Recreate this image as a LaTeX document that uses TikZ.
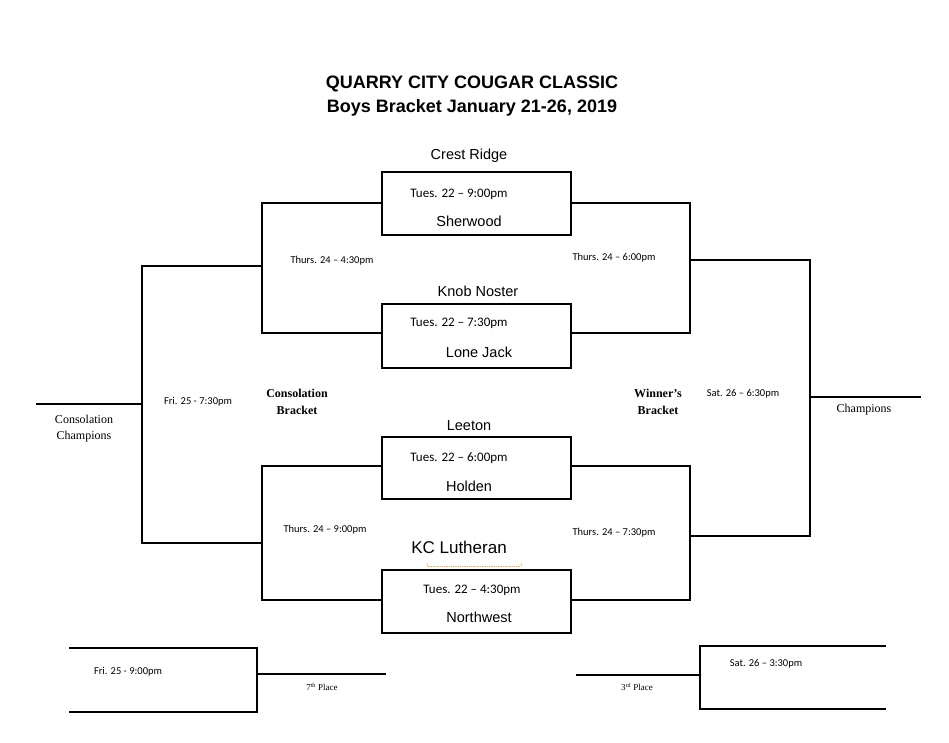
\documentclass[tikz,border=0pt]{standalone}
\usepackage{fontspec}
\setmainfont{Liberation Serif}
\newfontfamily\arialf{Liberation Sans}
\newfontfamily\calf{Carlito}
\begin{document}
\begin{tikzpicture}[x=1pt,y=-1pt,
  ln/.style={line width=2.8pt,line cap=rect},
  team/.style={font=\arialf\fontsize{14.5}{17}\selectfont,inner sep=0},
  tm/.style={font=\calf\fontsize{13}{15}\selectfont,inner sep=0},
  sm/.style={font=\calf\fontsize{10.5}{12}\selectfont,inner sep=0},
  lbl/.style={font=\fontsize{12}{16}\selectfont,inner sep=0,align=center},
  blbl/.style={font=\bfseries\fontsize{12}{17}\selectfont,inner sep=0,align=center}]
\useasboundingbox (0,0) rectangle (949,743);
\fill[white] (0,0) rectangle (949,743);
\node[font=\arialf\bfseries\fontsize{18}{24}\selectfont,align=center] (title) at (472,96) {QUARRY CITY COUGAR CLASSIC\\Boys Bracket January 21-26, 2019};
% boxes
\draw[ln] (382,172) rectangle (571,235);
\draw[ln] (382,304) rectangle (571,368);
\draw[ln] (382,437) rectangle (571,499);
\draw[ln] (382,570) rectangle (571,633);
% inner brackets
\draw[ln] (382,203) -- (262,203) -- (262,333) -- (382,333);
\draw[ln] (571,203) -- (690,203) -- (690,333) -- (571,333);
\draw[ln] (382,466) -- (262,466) -- (262,600) -- (382,600);
\draw[ln] (571,466) -- (690,466) -- (690,600) -- (571,600);
% outer
\draw[ln] (262,266) -- (142,266) -- (142,543) -- (262,543);
\draw[ln] (37,404) -- (142,404);
\draw[ln] (690,260) -- (810,260) -- (810,536) -- (690,536);
\draw[ln] (810,397) -- (920,397);
% bottom
\draw[ln] (70,648) -- (257,648) -- (257,712) -- (70,712);
\draw[ln] (257,674) -- (385,674);
\draw[ln] (885,646) -- (700,646) -- (700,709) -- (885,709);
\draw[ln] (577,675) -- (700,675);
\draw[orange!70,densely dotted,line width=0.8pt] (427,563) -- (427,566) -- (521,566) -- (521,563);
% teams
\node[team] (t1) at (469,156) {Crest Ridge};
\node[team] (t2) at (469,221) {Sherwood};
\node[team] (t3) at (478,291) {Knob Noster};
\node[team] (t4) at (479,352) {Lone Jack};
\node[team] (t5) at (469,426) {Leeton};
\node[team] (t6) at (469,486) {Holden};
\node[team,font=\arialf\fontsize{17}{20}\selectfont] (t7) at (459,547) {KC Lutheran};
\node[team] (t8) at (479,617) {Northwest};
% times
\node[tm] (g1) at (459,194) {Tues. 22 – 9:00pm};
\node[tm] (g2) at (459,323) {Tues. 22 – 7:30pm};
\node[tm] (g3) at (459,458) {Tues. 22 – 6:00pm};
\node[tm] (g4) at (472,590) {Tues. 22 – 4:30pm};
\node[sm] (s1) at (332,261) {Thurs. 24 – 4:30pm};
\node[sm] (s2) at (614,258) {Thurs. 24 – 6:00pm};
\node[sm] (s3) at (325,530) {Thurs. 24 – 9:00pm};
\node[sm] (s4) at (614,533) {Thurs. 24 – 7:30pm};
\node[sm] (s5) at (198,402) {Fri. 25 - 7:30pm};
\node[sm] (s6) at (743,394) {Sat. 26 – 6:30pm};
\node[sm] (s7) at (128,672) {Fri. 25 - 9:00pm};
\node[sm] (s8) at (766,664) {Sat. 26 – 3:30pm};
\node[blbl] (cb) at (297,402) {Consolation\\Bracket};
\node[blbl] (wb) at (658,402) {Winner’s\\Bracket};
\node[lbl] (cc) at (84,429) {Consolation\\Champions};
\node[lbl] (ch) at (864,410) {Champions};
\node[lbl,font=\fontsize{9}{11}\selectfont] (p7) at (322,687) {7\textsuperscript{th} Place};
\node[lbl,font=\fontsize{9}{11}\selectfont] (p3) at (637,687) {3\textsuperscript{rd} Place};
\end{tikzpicture}
\end{document}
